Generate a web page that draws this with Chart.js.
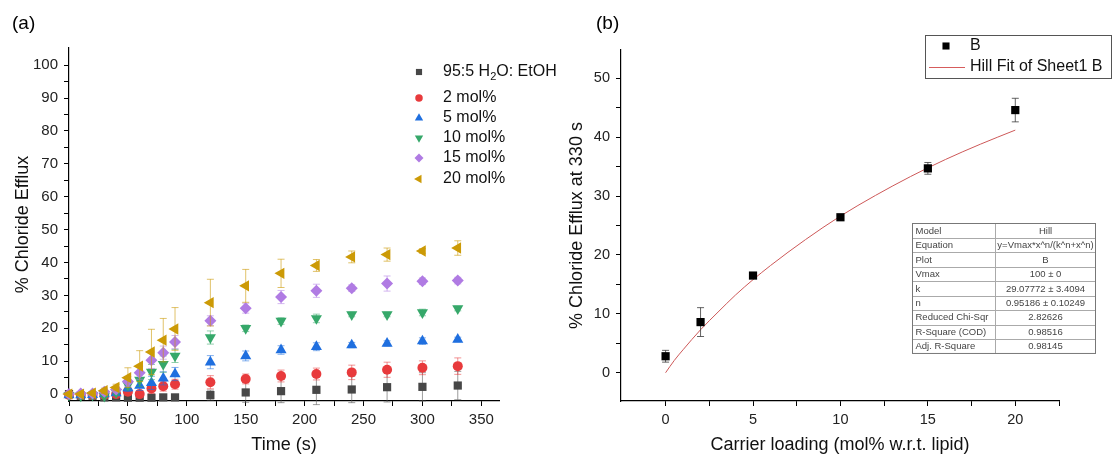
<!DOCTYPE html>
<html>
<head>
<meta charset="utf-8">
<script src="https://cdn.jsdelivr.net/npm/chart.js@4.4.1/dist/chart.umd.min.js"></script>
<style>
html, body { margin: 0; padding: 0; background: #fff; }
#wrap { position: relative; width: 1114px; height: 456px; overflow: hidden; }
#left { position: absolute; left: 0; top: 0; }
#right { position: absolute; left: 560px; top: 0; }
</style>
</head>
<body>
<div id="wrap">
<canvas id="left" width="560" height="456"></canvas>
<canvas id="right" width="554" height="456"></canvas>
</div>
<script>
////////////////////////////////////////////////////////////////////////
// Panel (a) data
const times = [0, 10, 20, 30, 40, 50, 60, 70, 80, 90, 120, 150, 180, 210, 240, 270, 300, 330]
const seriesNames = ['95:5 H2O: EtOH', '2 mol%', '5 mol%', '10 mol%', '15 mol%', '20 mol%']

const effluxBlank = [0, -0.5, -0.5, -1.0, -1.0, -1.1, -1.1, -1.1, -1.0, -1.0, -0.3, 0.5, 0.9, 1.3, 1.4, 2.1, 2.2, 2.6]
const errBlank    = [0.3, 0.3, 0.3, 0.3, 0.3, 0.3, 0.3, 0.3, 0.3, 0.5, 1.5, 3.0, 3.5, 4.5, 4.0, 4.5, 4.3, 4.3]
const efflux2     = [-0.3, -0.3, -0.3, -0.3, 0, 0.7, 0, 1.7, 2.4, 3.0, 3.6, 4.6, 5.5, 6.1, 6.6, 7.4, 8.0, 8.5]
const err2        = [0.3, 0.3, 0.3, 0.3, 0.5, 1.0, 1.0, 1.5, 1.5, 1.5, 2.0, 1.5, 1.8, 1.8, 2.2, 2.3, 2.1, 2.5]
const efflux5     = [-0.3, -0.3, -0.2, 0, 0.3, 1.8, 2.6, 3.4, 4.8, 6.1, 9.7, 11.6, 13.4, 14.4, 14.9, 15.4, 16.1, 16.6]
const err5        = [0.3, 0.3, 0.3, 0.3, 0.5, 1.0, 1.5, 2.0, 2.0, 2.0, 2.0, 1.5, 1.3, 1.2, 0.8, 0.8, 1.0, 0.7]
const efflux10    = [-0.3, -0.5, -0.3, -0.6, 0.5, 2.8, 4.3, 6.7, 9.1, 11.6, 17.2, 20.0, 22.2, 23.0, 24.2, 24.2, 24.8, 26.0]
const err10       = [0.3, 0.3, 0.3, 0.3, 0.8, 1.5, 2.0, 2.3, 2.5, 2.0, 2.0, 1.0, 1.0, 1.3, 0.7, 0.7, 1.0, 0.7]
const efflux15    = [0, 0.2, 0.2, 0.7, 1.4, 3.8, 6.5, 10.3, 12.6, 15.8, 22.3, 26.1, 29.5, 31.4, 32.2, 33.6, 34.3, 34.5]
const err15       = [0.3, 0.5, 0.5, 0.6, 0.8, 1.5, 2.0, 2.5, 2.0, 2.0, 1.5, 1.5, 2.0, 2.0, 1.0, 2.3, 1.0, 1.0]
const efflux20    = [0, 0, 0.3, 1.0, 2.0, 5.0, 8.5, 12.8, 16.4, 19.8, 27.8, 32.9, 36.7, 39.1, 41.7, 42.4, 43.5, 44.4]
const err20       = [0.3, 0.3, 0.5, 0.8, 1.0, 3.0, 4.7, 6.9, 6.6, 6.5, 7.1, 5.0, 4.3, 1.8, 1.8, 2.0, 0.7, 2.2]

const timeTicks = [0, 25, 50, 75, 100, 125, 150, 175, 200, 225, 250, 275, 300, 325, 350]
const effluxTicks = [0, 5, 10, 15, 20, 25, 30, 35, 40, 45, 50, 55, 60, 65, 70, 75, 80, 85, 90, 95, 100]

////////////////////////////////////////////////////////////////////////
// Panel (b) data
const loading = [0, 2, 5, 10, 15, 20]
const efflux330 = [2.8, 8.6, 16.5, 26.4, 34.7, 44.6]
const err330 = [1.0, 2.45, 0.5, 0.3, 1.0, 2.0]
const fitLoading = [0, 0.5, 1, 2, 3, 4, 5, 6, 8, 10, 12, 14, 16, 18, 20]
const fitEfflux = [0, 2.1, 3.9, 7.3, 10.3, 13.2, 15.8, 18.2, 22.6, 26.6, 30.1, 33.3, 36.2, 38.8, 41.2]

const loadingTicks = [0, 2.5, 5, 7.5, 10, 12.5, 15, 17.5, 20, 22.5]
const efflux330Ticks = [0, 5, 10, 15, 20, 25, 30, 35, 40, 45, 50]

const tableLabels = ['Model', 'Equation', 'Plot', 'Vmax', 'k', 'n', 'Reduced Chi-Sqr', 'R-Square (COD)', 'Adj. R-Square']
const tableValues = ['Hill', 'y=Vmax*x^n/(k^n+x^n)', 'B', '100 \u00b1 0', '29.07772 \u00b1 3.4094',
                     '0.95186 \u00b1 0.10249', '2.82626', '0.98516', '0.98145']

////////////////////////////////////////////////////////////////////////
// Styles
const FONT = '"Liberation Sans", Arial, sans-serif'

const markers = [
    { pointStyle: 'rect',     rotation: 0,   radius: 5.8, color: '#474747', err: 'rgba(90,90,90,0.6)' },
    { pointStyle: 'circle',   rotation: 0,   radius: 5.0, color: '#e83a3c', err: 'rgba(232,58,60,0.55)' },
    { pointStyle: 'triangle', rotation: 0,   radius: 6.4, color: '#1f6fdf', err: 'rgba(31,111,223,0.55)' },
    { pointStyle: 'triangle', rotation: 180, radius: 6.4, color: '#36a86a', err: 'rgba(54,168,106,0.55)' },
    { pointStyle: 'rectRot',  rotation: 0,   radius: 6.0, color: '#b07be3', err: 'rgba(176,123,227,0.55)' },
    { pointStyle: 'triangle', rotation: 270, radius: 6.6, color: '#cc9a06', err: 'rgba(204,154,6,0.6)' }
]

function points(xs, ys) {
    return xs.map((x, i) => ({ x: x, y: ys[i] }))
}

/**
 * Linear axis with fixed tick list, labels only on multiples of labelEvery.
 */
function axis(min, max, ticks, labelEvery, title, fontSize, titlePad, tickPad, fit) {
    return {
        type: 'linear',
        min: min,
        max: max,
        afterBuildTicks: s => { s.ticks = ticks.map(v => ({ value: v })) },
        afterFit: fit,
        ticks: {
            autoSkip: false,
            maxRotation: 0,
            padding: tickPad,
            color: '#222',
            font: { family: FONT, size: fontSize },
            callback: v => (Math.abs(v % labelEvery) < 1e-9 ? String(v) : '')
        },
        grid: { drawOnChartArea: false, drawTicks: true, tickLength: 5, tickColor: '#000', tickWidth: 1 },
        border: { display: true, color: '#000', width: 1.2 },
        title: {
            display: true,
            text: title,
            color: '#111',
            font: { family: FONT, size: 18 },
            padding: titlePad
        }
    }
}

// Error bars are drawn under each dataset's markers
const errorBars = {
    id: 'errorBars',
    beforeDatasetDraw(chart, args) {
        const ds = chart.data.datasets[args.index]
        if (!ds.errors) return
        const ctx = chart.ctx
        const xs = chart.scales.x
        const ys = chart.scales.y
        const cap = ds.capHalf || 3.5
        ctx.save()
        ctx.strokeStyle = ds.errorColor
        ctx.lineWidth = 1
        ds.data.forEach((p, j) => {
            const e = ds.errors[j]
            const x = xs.getPixelForValue(p.x)
            const top = ys.getPixelForValue(p.y + e)
            const bot = ys.getPixelForValue(p.y - e)
            ctx.beginPath()
            ctx.moveTo(x, top); ctx.lineTo(x, bot)
            ctx.moveTo(x - cap, top); ctx.lineTo(x + cap, top)
            ctx.moveTo(x - cap, bot); ctx.lineTo(x + cap, bot)
            ctx.stroke()
        })
        ctx.restore()
    }
}

////////////////////////////////////////////////////////////////////////
// Panel (a)
const seriesA = [effluxBlank, efflux2, efflux5, efflux10, efflux15, efflux20]
const errorsA = [errBlank, err2, err5, err10, err15, err20]

const panelA = {
    id: 'panelA',
    afterDraw(chart) {
        const ctx = chart.ctx
        ctx.save()
        ctx.fillStyle = '#000'
        ctx.textBaseline = 'middle'
        ctx.font = '19px ' + FONT
        ctx.fillText('(a)', 12, 24)

        const rows = [72, 98, 118, 138, 158, 179]
        ctx.font = '16px ' + FONT
        markers.forEach((m, i) => {
            ctx.fillStyle = m.color
            Chart.helpers.drawPoint(ctx, { pointStyle: m.pointStyle, rotation: m.rotation, radius: m.radius * 0.75, borderWidth: 0 }, 419, rows[i])
            ctx.fillStyle = '#111'
            if (i === 0) {
                // 95:5 H2O: EtOH with a real subscript
                let x = 443
                ctx.fillText('95:5 H', x, rows[i])
                x += ctx.measureText('95:5 H').width
                ctx.font = '11px ' + FONT
                ctx.fillText('2', x, rows[i] + 5)
                x += ctx.measureText('2').width
                ctx.font = '16px ' + FONT
                ctx.fillText('O: EtOH', x, rows[i])
            } else {
                ctx.fillText(seriesNames[i], 443, rows[i])
            }
        })
        ctx.restore()
    }
}

new Chart(document.getElementById('left'), {
    type: 'scatter',
    data: {
        datasets: seriesA.map((ys, i) => ({
            label: seriesNames[i],
            data: points(times, ys),
            errors: errorsA[i],
            errorColor: markers[i].err,
            capHalf: 3.5,
            pointStyle: markers[i].pointStyle,
            rotation: markers[i].rotation,
            pointRadius: markers[i].radius,
            pointBackgroundColor: markers[i].color,
            pointBorderWidth: 0,
            clip: false,
            order: seriesA.length - i
        }))
    },
    options: {
        responsive: false,
        animation: false,
        layout: { padding: { left: 0, top: 48, right: 61, bottom: 0 } },
        plugins: { legend: { display: false }, tooltip: { enabled: false } },
        scales: {
            x: axis(0, 365, timeTicks, 50, 'Time (s)', 15, { top: 0, bottom: 0 }, 5, s => { s.height = 55 }),
            y: axis(-2.1, 105.2, effluxTicks, 10, '% Chloride Efflux', 15, { top: 12, bottom: 0 }, 6, s => { s.width = 69 })
        }
    },
    plugins: [errorBars, panelA]
})

////////////////////////////////////////////////////////////////////////
// Panel (b)
const panelB = {
    id: 'panelB',
    afterDraw(chart) {
        const ctx = chart.ctx
        ctx.save()
        ctx.fillStyle = '#000'
        ctx.textBaseline = 'middle'
        ctx.font = '19px ' + FONT
        ctx.fillText('(b)', 36, 24)

        // legend box
        ctx.strokeStyle = '#555'
        ctx.lineWidth = 1
        ctx.strokeRect(365.5, 35.5, 186, 43)
        ctx.fillStyle = '#000'
        Chart.helpers.drawPoint(ctx, { pointStyle: 'rect', radius: 5, borderWidth: 0 }, 386, 46)
        ctx.strokeStyle = 'rgb(214,92,92)'
        ctx.beginPath()
        ctx.moveTo(369, 67.5); ctx.lineTo(405, 67.5)
        ctx.stroke()
        ctx.font = '16px ' + FONT
        ctx.fillStyle = '#111'
        ctx.fillText('B', 410, 46)
        ctx.fillText('Hill Fit of Sheet1 B', 410, 67)

        // fit parameter table
        const left = 352.5, right = 535.5, mid = 435.5, top = 223.5, rowH = 14.44
        const bottom = top + rowH * tableLabels.length
        ctx.fillStyle = '#fff'
        ctx.fillRect(left, top, right - left, bottom - top)
        ctx.strokeStyle = '#aaa'
        ctx.beginPath()
        for (let r = 1; r < tableLabels.length; r++) {
            const y = Math.round(top + r * rowH) + 0.5
            ctx.moveTo(left, y); ctx.lineTo(right, y)
        }
        ctx.moveTo(mid, top); ctx.lineTo(mid, bottom)
        ctx.stroke()
        ctx.strokeStyle = '#777'
        ctx.strokeRect(left, top, right - left, bottom - top)
        ctx.font = '9.5px ' + FONT
        ctx.fillStyle = '#444'
        tableLabels.forEach((t, r) => {
            const y = top + rowH * (r + 0.5) + 0.5
            ctx.textAlign = 'left'
            ctx.fillText(t, left + 3, y)
            ctx.textAlign = 'center'
            ctx.fillText(tableValues[r], (mid + right) / 2, y)
        })
        ctx.restore()
    }
}

new Chart(document.getElementById('right'), {
    type: 'scatter',
    data: {
        datasets: [
            {
                label: 'B',
                data: points(loading, efflux330),
                errors: err330,
                errorColor: 'rgba(60,60,60,0.8)',
                capHalf: 3.5,
                pointStyle: 'rect',
                pointRadius: 5.8,
                pointBackgroundColor: '#000',
                pointBorderWidth: 0,
                clip: false,
                order: 0
            },
            {
                label: 'Hill Fit of Sheet1 B',
                data: points(fitLoading, fitEfflux),
                showLine: true,
                borderColor: 'rgb(205,88,88)',
                borderWidth: 1,
                pointRadius: 0,
                cubicInterpolationMode: 'monotone',
                order: 1
            }
        ]
    },
    options: {
        responsive: false,
        animation: false,
        layout: { padding: { left: 0, top: 50, right: 55, bottom: 0 } },
        plugins: { legend: { display: false }, tooltip: { enabled: false } },
        scales: {
            x: axis(-2.55, 22.5, loadingTicks, 5, 'Carrier loading (mol% w.r.t. lipid)', 14.5, { top: 0, bottom: 0 }, 5, s => { s.height = 55 }),
            y: axis(-4.8, 54.8, efflux330Ticks, 10, '% Chloride Efflux at 330 s', 14.5, { top: 6, bottom: 0 }, 6, s => { s.width = 61 })
        }
    },
    plugins: [errorBars, panelB]
})
</script>
</body>
</html>
